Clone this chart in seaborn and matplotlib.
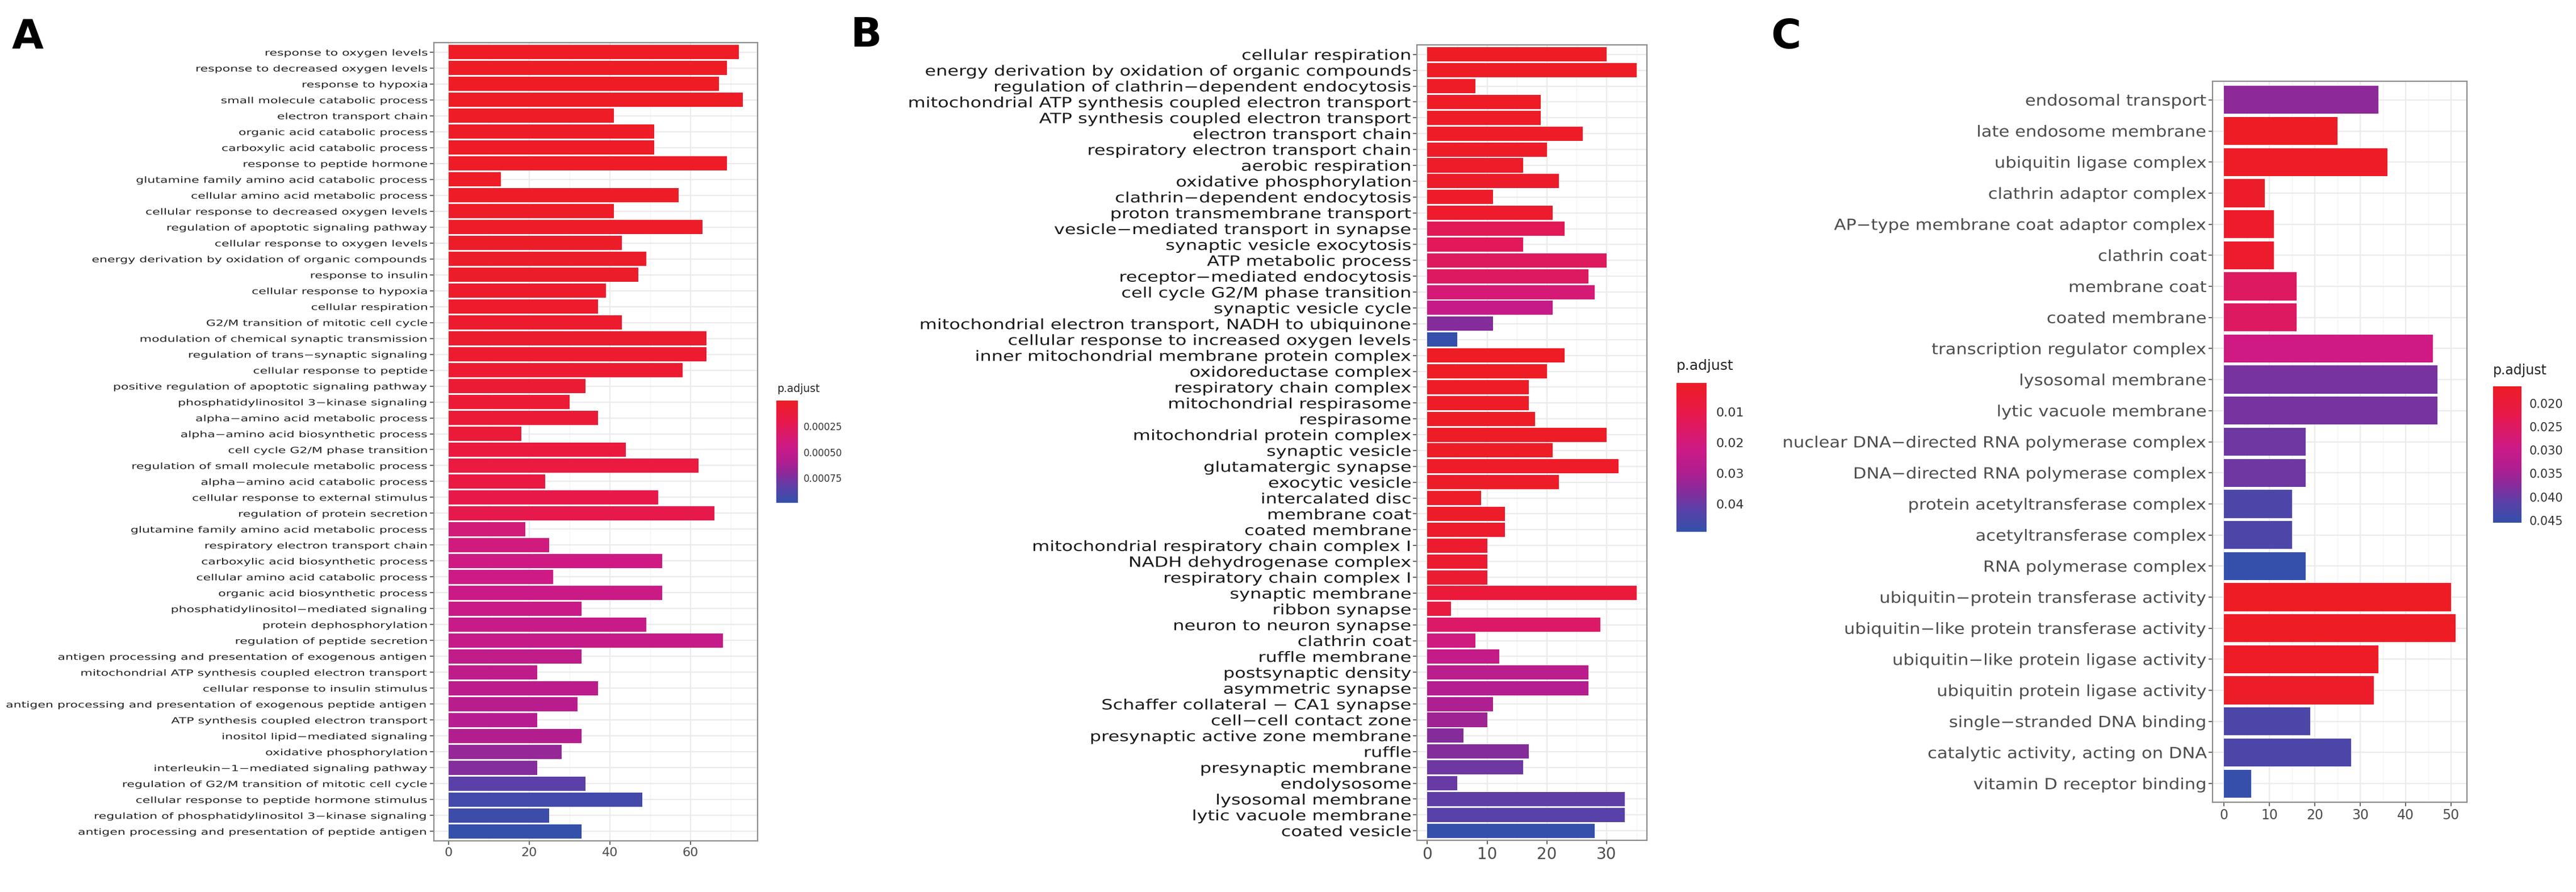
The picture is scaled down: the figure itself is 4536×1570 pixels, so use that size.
import numpy as np
import pandas as pd
import matplotlib
matplotlib.use("Agg")
import matplotlib.pyplot as plt
import seaborn as sns
from matplotlib.colors import LinearSegmentedColormap, Normalize
from matplotlib.cm import ScalarMappable
from matplotlib.patheffects import AbstractPathEffect
from matplotlib.transforms import Affine2D

sns.set_style("white")
plt.rcParams['font.family'] = ['DejaVu Sans']

# ---------------- data ----------------
A_terms = [
    "response to oxygen levels", "response to decreased oxygen levels", "response to hypoxia",
    "small molecule catabolic process", "electron transport chain", "organic acid catabolic process",
    "carboxylic acid catabolic process", "response to peptide hormone",
    "glutamine family amino acid catabolic process", "cellular amino acid metabolic process",
    "cellular response to decreased oxygen levels", "regulation of apoptotic signaling pathway",
    "cellular response to oxygen levels", "energy derivation by oxidation of organic compounds",
    "response to insulin", "cellular response to hypoxia", "cellular respiration",
    "G2/M transition of mitotic cell cycle", "modulation of chemical synaptic transmission",
    "regulation of trans\u2212synaptic signaling", "cellular response to peptide",
    "positive regulation of apoptotic signaling pathway", "phosphatidylinositol 3\u2212kinase signaling",
    "alpha\u2212amino acid metabolic process", "alpha\u2212amino acid biosynthetic process",
    "cell cycle G2/M phase transition", "regulation of small molecule metabolic process",
    "alpha\u2212amino acid catabolic process", "cellular response to external stimulus",
    "regulation of protein secretion", "glutamine family amino acid metabolic process",
    "respiratory electron transport chain", "carboxylic acid biosynthetic process",
    "cellular amino acid catabolic process", "organic acid biosynthetic process",
    "phosphatidylinositol\u2212mediated signaling", "protein dephosphorylation",
    "regulation of peptide secretion", "antigen processing and presentation of exogenous antigen",
    "mitochondrial ATP synthesis coupled electron transport", "cellular response to insulin stimulus",
    "antigen processing and presentation of exogenous peptide antigen",
    "ATP synthesis coupled electron transport", "inositol lipid\u2212mediated signaling",
    "oxidative phosphorylation", "interleukin\u22121\u2212mediated signaling pathway",
    "regulation of G2/M transition of mitotic cell cycle",
    "cellular response to peptide hormone stimulus",
    "regulation of phosphatidylinositol 3\u2212kinase signaling",
    "antigen processing and presentation of peptide antigen",
]
A_count = [72, 69, 67, 73, 41, 51, 51, 69, 13, 57, 41, 63, 43, 49, 47, 39, 37, 43, 64, 64,
           58, 34, 30, 37, 18, 44, 62, 24, 52, 66, 19, 25, 53, 26, 53, 33, 49, 68, 33, 22,
           37, 32, 22, 33, 28, 22, 34, 48, 25, 33]
A_padj = [0.000002, 0.000003, 0.000003, 0.000004, 0.000006, 0.000008, 0.000009, 0.000011,
          0.000013, 0.000016, 0.000019, 0.000022, 0.000026, 0.000030, 0.000034, 0.000039,
          0.000044, 0.000050, 0.000056, 0.000062, 0.000070, 0.000080, 0.000090, 0.000100,
          0.000110, 0.000140, 0.000150, 0.000170, 0.000190, 0.000210, 0.000390, 0.000410,
          0.000430, 0.000440, 0.000450, 0.000460, 0.000480, 0.000490, 0.000510, 0.000520,
          0.000530, 0.000550, 0.000560, 0.000580, 0.000680, 0.000730, 0.000840, 0.000930,
          0.000950, 0.000990]

B_terms = [
    "cellular respiration", "energy derivation by oxidation of organic compounds",
    "regulation of clathrin\u2212dependent endocytosis",
    "mitochondrial ATP synthesis coupled electron transport",
    "ATP synthesis coupled electron transport", "electron transport chain",
    "respiratory electron transport chain", "aerobic respiration", "oxidative phosphorylation",
    "clathrin\u2212dependent endocytosis", "proton transmembrane transport",
    "vesicle\u2212mediated transport in synapse", "synaptic vesicle exocytosis",
    "ATP metabolic process", "receptor\u2212mediated endocytosis", "cell cycle G2/M phase transition",
    "synaptic vesicle cycle", "mitochondrial electron transport, NADH to ubiquinone",
    "cellular response to increased oxygen levels", "inner mitochondrial membrane protein complex",
    "oxidoreductase complex", "respiratory chain complex", "mitochondrial respirasome",
    "respirasome", "mitochondrial protein complex", "synaptic vesicle", "glutamatergic synapse",
    "exocytic vesicle", "intercalated disc", "membrane coat", "coated membrane",
    "mitochondrial respiratory chain complex I", "NADH dehydrogenase complex",
    "respiratory chain complex I", "synaptic membrane", "ribbon synapse",
    "neuron to neuron synapse", "clathrin coat", "ruffle membrane", "postsynaptic density",
    "asymmetric synapse", "Schaffer collateral \u2212 CA1 synapse", "cell\u2212cell contact zone",
    "presynaptic active zone membrane", "ruffle", "presynaptic membrane", "endolysosome",
    "lysosomal membrane", "lytic vacuole membrane", "coated vesicle",
]
B_count = [30, 35, 8, 19, 19, 26, 20, 16, 22, 11, 21, 23, 16, 30, 27, 28, 21, 11, 5, 23,
           20, 17, 17, 18, 30, 21, 32, 22, 9, 13, 13, 10, 10, 10, 35, 4, 29, 8, 12, 27,
           27, 11, 10, 6, 17, 16, 5, 33, 33, 28]
B_padj = [0.0005, 0.0006, 0.0008, 0.0009, 0.0010, 0.0012, 0.0014, 0.0016, 0.0019, 0.0022,
          0.0026, 0.0130, 0.0135, 0.0140, 0.0150, 0.0190, 0.0240, 0.0360, 0.0490, 0.0005,
          0.0006, 0.0007, 0.0008, 0.0009, 0.0010, 0.0012, 0.0014, 0.0016, 0.0018, 0.0021,
          0.0024, 0.0028, 0.0032, 0.0036, 0.0060, 0.0080, 0.0160, 0.0210, 0.0240, 0.0270,
          0.0280, 0.0300, 0.0320, 0.0360, 0.0360, 0.0390, 0.0400, 0.0410, 0.0420, 0.0490]

C_terms = [
    "endosomal transport", "late endosome membrane", "ubiquitin ligase complex",
    "clathrin adaptor complex", "AP\u2212type membrane coat adaptor complex", "clathrin coat",
    "membrane coat", "coated membrane", "transcription regulator complex", "lysosomal membrane",
    "lytic vacuole membrane", "nuclear DNA\u2212directed RNA polymerase complex",
    "DNA\u2212directed RNA polymerase complex", "protein acetyltransferase complex",
    "acetyltransferase complex", "RNA polymerase complex",
    "ubiquitin\u2212protein transferase activity", "ubiquitin\u2212like protein transferase activity",
    "ubiquitin\u2212like protein ligase activity", "ubiquitin protein ligase activity",
    "single\u2212stranded DNA binding", "catalytic activity, acting on DNA",
    "vitamin D receptor binding",
]
C_count = [34, 25, 36, 9, 11, 11, 16, 16, 46, 47, 47, 18, 18, 15, 15, 18, 50, 51, 34, 33, 19, 28, 6]
C_padj = [0.0370, 0.0165, 0.0166, 0.0172, 0.0175, 0.0178, 0.0250, 0.0252, 0.0290, 0.0388,
          0.0388, 0.0395, 0.0395, 0.0426, 0.0426, 0.0455, 0.0164, 0.0164, 0.0168, 0.0170,
          0.0426, 0.0426, 0.0452]

A_xticks = [0, 20, 40, 60]
B_xticks = [0, 10, 20, 30]
C_xticks = [0, 10, 20, 30, 40, 50]
A_cbticks = [0.00025, 0.00050, 0.00075]
A_cblabels = ["0.00025", "0.00050", "0.00075"]
B_cbticks = [0.01, 0.02, 0.03, 0.04]
B_cblabels = ["0.01", "0.02", "0.03", "0.04"]
C_cbticks = [0.020, 0.025, 0.030, 0.035, 0.040, 0.045]
C_cblabels = ["0.020", "0.025", "0.030", "0.035", "0.040", "0.045"]

# ---------------- style helpers ----------------
cmap = LinearSegmentedColormap.from_list("padj", [
    (0.00, "#EE1C25"), (0.20, "#E8194A"), (0.45, "#CC1A86"), (0.60, "#B01E90"),
    (0.72, "#8A2A9A"), (0.85, "#5A40A8"), (1.00, "#3450AA")])


class HStretch(AbstractPathEffect):
    """Horizontally stretch a text path around its right/left edge."""
    def __init__(self, sx, anchor="right"):
        super().__init__()
        self.sx = sx
        self.anchor = anchor

    def draw_path(self, renderer, gc, tpath, affine, rgbFace=None):
        v = tpath.vertices
        x0 = 0.0
        if len(v) and self.anchor == "right":
            x0 = float(np.max(v[:, 0]))
        t = Affine2D().translate(-x0, 0).scale(self.sx, 1.0).translate(x0, 0) + affine
        renderer.draw_path(gc, tpath, t, rgbFace)


W, H = 4536, 1570
fig = plt.figure(figsize=(W / 100, H / 100), dpi=100)
fig.patch.set_facecolor("white")


def rect(l, t, r, b):
    return [l / W, 1 - b / H, (r - l) / W, (b - t) / H]


def panel(box, terms, counts, padj, xticks, lab_fs, lab_sx, lab_col, xt_fs):
    ax = fig.add_axes(rect(*box))
    df = pd.DataFrame({"Description": terms, "Count": counts, "p.adjust": padj})
    norm = Normalize(vmin=min(padj), vmax=max(padj))
    pal = {t: cmap(norm(p)) for t, p in zip(terms, padj)}
    sns.barplot(data=df, x="Count", y="Description", hue="Description", palette=pal,
                legend=False, width=0.9, saturation=1, edgecolor="none", linewidth=0,
                orient="h", ax=ax)
    n = len(terms)
    mx = max(counts)
    ax.set_xlim(-0.05 * mx, 1.05 * mx)
    ax.set_ylim(n - 1 + 0.6, -0.6)
    ax.set_xlabel("")
    ax.set_ylabel("")
    ax.set_xticks(xticks)
    step = xticks[1] - xticks[0]
    minors = [x + step / 2 for x in xticks if x + step / 2 < 1.05 * mx]
    ax.set_xticks(minors, minor=True)
    ax.set_axisbelow(True)
    ax.grid(True, which="major", axis="both", color="#EBEBEB", lw=1.6)
    ax.grid(True, which="minor", axis="x", color="#F3F3F3", lw=0.9)
    for s in ax.spines.values():
        s.set_visible(True)
        s.set_color("#8C8C8C")
        s.set_linewidth(1.6)
    ax.tick_params(axis="y", which="major", length=5, width=1.3, color="#555555",
                   labelsize=lab_fs, labelcolor=lab_col, pad=2, left=True)
    ax.tick_params(axis="x", which="major", length=5, width=1.3, color="#555555",
                   labelsize=xt_fs, labelcolor="#4D4D4D", pad=3, bottom=True)
    ax.tick_params(which="minor", length=0)
    return ax, norm


def colorbar(box, norm, ticks, labels, fs, pad, title, title_xy, title_fs):
    cax = fig.add_axes(rect(*box))
    cb = fig.colorbar(ScalarMappable(norm=norm, cmap=cmap), cax=cax)
    cb.outline.set_visible(False)
    cax.invert_yaxis()
    cb.set_ticks(ticks)
    cb.set_ticklabels(labels)
    wpx = box[2] - box[0]
    cax.tick_params(axis="y", which="major", direction="in", length=wpx * 0.2 * 0.72,
                    width=1.4, color="white", left=True, right=True,
                    labelleft=False, labelright=True, labelsize=fs,
                    labelcolor="#333333", pad=pad)
    cax.tick_params(which="minor", length=0)
    fig.text(title_xy[0] / W, 1 - title_xy[1] / H, title, ha="left", va="center",
             fontsize=title_fs, color="#222222")


axA, nA = panel((764, 75, 1334, 1480), A_terms, A_count, A_padj, A_xticks,
                10.8, 1.47, "#222222", 16)
axB, nB = panel((2495, 79, 2900, 1479), B_terms, B_count, B_padj, B_xticks,
                18, 1.28, "#1A1A1A", 20)
axC, nC = panel((3896, 143, 4344, 1412), C_terms, C_count, C_padj, C_xticks,
                19.5, 1.13, "#4D4D4D", 17)

colorbar((1367, 705, 1405, 885), nA, A_cbticks, A_cblabels, 12, 7, "p.adjust", (1368, 684), 13.5)
colorbar((2952, 674, 3005, 936), nB, B_cbticks, B_cblabels, 16, 12, "p.adjust", (2952, 644), 18)
colorbar((4390, 680, 4440, 920), nC, C_cbticks, C_cblabels, 15, 10, "p.adjust", (4390, 652), 17)

for letter, x, yb in (("A", 21, 86), ("B", 1497, 82), ("C", 3118, 85)):
    fig.text(x / W, 1 - yb / H, letter, ha="left", va="baseline", fontsize=52,
             fontweight="bold", color="black")

for ax, sx in ((axA, 1.47), (axB, 1.28), (axC, 1.13)):
    for lab in ax.get_yticklabels():
        lab.set_path_effects([HStretch(sx, "right")])

fig.savefig("out.png", dpi=100, facecolor="white")
